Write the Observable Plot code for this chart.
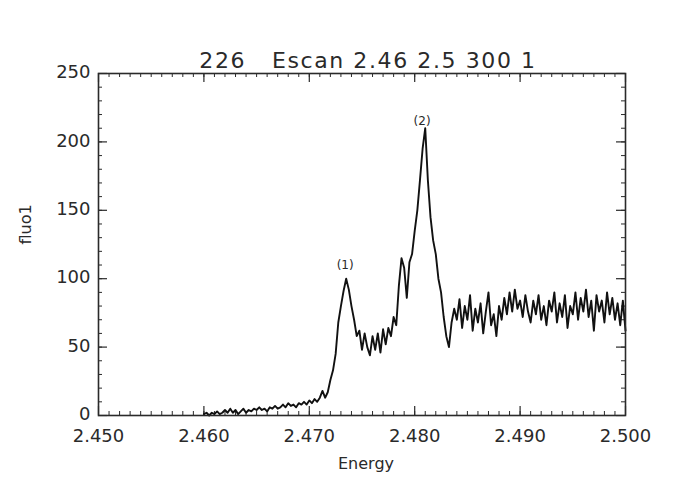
<!DOCTYPE html>
<html>
<head>
<meta charset="utf-8">
<script src="https://cdn.jsdelivr.net/npm/d3@7"></script>
<script src="https://cdn.jsdelivr.net/npm/@observablehq/plot@0.6"></script>
<style>
  html, body { margin: 0; padding: 0; background: #fff; }
  #chart { width: 682px; height: 497px; }
  svg text { white-space: pre; }
</style>
</head>
<body>
<div id="chart"></div>
<script>
// ---- data ----
const titleText = "226   Escan 2.46 2.5 300 1";
const xLabel = "Energy";
const yLabel = "fluo1";

const energy = [
  2.46000, 2.46025, 2.46050, 2.46075, 2.46100, 2.46125, 2.46150, 2.46175, 2.46200, 2.46225,
  2.46250, 2.46275, 2.46300, 2.46325, 2.46350, 2.46375, 2.46400, 2.46425, 2.46450, 2.46475,
  2.46500, 2.46525, 2.46550, 2.46575, 2.46600, 2.46625, 2.46650, 2.46675, 2.46700, 2.46725,
  2.46750, 2.46775, 2.46800, 2.46825, 2.46850, 2.46875, 2.46900, 2.46925, 2.46950, 2.46975,
  2.47000, 2.47025, 2.47050, 2.47075, 2.47100, 2.47125, 2.47150, 2.47175, 2.47200, 2.47225,
  2.47250, 2.47275, 2.47300, 2.47325, 2.47350, 2.47375, 2.47400, 2.47425, 2.47450, 2.47475,
  2.47500, 2.47525, 2.47550, 2.47575, 2.47600, 2.47625, 2.47650, 2.47675, 2.47700, 2.47725,
  2.47750, 2.47775, 2.47800, 2.47825, 2.47850, 2.47875, 2.47900, 2.47925, 2.47950, 2.47975,
  2.48000, 2.48025, 2.48050, 2.48075, 2.48100, 2.48125, 2.48150, 2.48175, 2.48200, 2.48225,
  2.48250, 2.48275, 2.48300, 2.48325, 2.48350, 2.48375, 2.48400, 2.48425, 2.48450, 2.48475,
  2.48500, 2.48525, 2.48550, 2.48575, 2.48600, 2.48625, 2.48650, 2.48675, 2.48700, 2.48725,
  2.48750, 2.48775, 2.48800, 2.48825, 2.48850, 2.48875, 2.48900, 2.48925, 2.48950, 2.48975,
  2.49000, 2.49025, 2.49050, 2.49075, 2.49100, 2.49125, 2.49150, 2.49175, 2.49200, 2.49225,
  2.49250, 2.49275, 2.49300, 2.49325, 2.49350, 2.49375, 2.49400, 2.49425, 2.49450, 2.49475,
  2.49500, 2.49525, 2.49550, 2.49575, 2.49600, 2.49625, 2.49650, 2.49675, 2.49700, 2.49725,
  2.49750, 2.49775, 2.49800, 2.49825, 2.49850, 2.49875, 2.49900, 2.49925, 2.49950, 2.49975,
  2.50000
];

const fluo1 = [
  1, 2, 0, 2, 1, 3, 1, 2, 4, 2,
  5, 2, 4, 1, 3, 5, 2, 4, 3, 5,
  4, 6, 4, 5, 3, 6, 5, 7, 5, 6,
  8, 6, 9, 7, 8, 6, 9, 8, 10, 8,
  11, 9, 12, 10, 13, 18, 13, 17, 26, 33,
  45, 68, 80, 91, 100, 92, 80, 70, 58, 62,
  48, 60, 50, 44, 58, 48, 60, 46, 63, 52,
  64, 58, 72, 66, 95, 115, 108, 86, 112, 118,
  135, 150, 172, 195, 210, 172, 145, 128, 118, 100,
  90, 72, 58, 50, 68, 78, 70, 85, 64, 80,
  70, 88, 62, 78, 68, 82, 60, 76, 90, 66,
  74, 58, 80, 70, 86, 74, 90, 76, 92, 78,
  84, 72, 88, 76, 68, 84, 74, 88, 70, 80,
  66, 84, 76, 90, 68, 82, 72, 88, 64, 80,
  74, 90, 70, 86, 76, 92, 72, 84, 62, 88,
  76, 84, 68, 90, 74, 86, 70, 82, 66, 84,
  62
];

const xTickValues = [2.45, 2.46, 2.47, 2.48, 2.49, 2.50];
const xTickLabels = ["2.450", "2.460", "2.470", "2.480", "2.490", "2.500"];
const yTickValues = [0, 50, 100, 150, 200, 250];
const yTickLabels = ["0", "50", "100", "150", "200", "250"];

const peakLabels = ["(1)", "(2)"];
const peakX = [2.4734, 2.4807];
const peakY = [110, 215];

// ---- build ----
const W = 682, H = 497;
const mL = 98, mR = 57, mT = 73, mB = 82;
const fw = W - mL - mR, fh = H - mT - mB;

const rows = energy.map((e, i) => ({e, v: fluo1[i]}));
const xMinor = d3.range(2.45, 2.50001, 0.001).map(d => +d.toFixed(3));
const yMinor = d3.range(0, 250.001, 10);
const xMajorRows = xTickValues.map((v, i) => ({v, t: xTickLabels[i]}));
const yMajorRows = yTickValues.map((v, i) => ({v, t: yTickLabels[i]}));
const peaks = peakLabels.map((t, i) => ({t, x: peakX[i], y: peakY[i]}));

const font = "DejaVu Sans, sans-serif";
const ink = "#2a2a2a";
const majorLen = 9, minorLen = 4;

const chart = Plot.plot({
  width: W, height: H,
  marginLeft: mL, marginRight: mR, marginTop: mT, marginBottom: mB,
  style: {fontFamily: font, background: "#fff"},
  x: {domain: [2.45, 2.50], axis: null},
  y: {domain: [0, 250], axis: null},
  marks: [
    // minor ticks (inward, all four sides)
    Plot.tickX(xMinor, {x: d => d, insetTop: fh - minorLen, stroke: ink, strokeWidth: 1}),
    Plot.tickX(xMinor, {x: d => d, insetBottom: fh - minorLen, stroke: ink, strokeWidth: 1}),
    Plot.tickY(yMinor, {y: d => d, insetRight: fw - minorLen, stroke: ink, strokeWidth: 1}),
    Plot.tickY(yMinor, {y: d => d, insetLeft: fw - minorLen, stroke: ink, strokeWidth: 1}),
    // major ticks
    Plot.tickX(xMajorRows, {x: "v", insetTop: fh - majorLen, stroke: ink, strokeWidth: 1.2}),
    Plot.tickX(xMajorRows, {x: "v", insetBottom: fh - majorLen, stroke: ink, strokeWidth: 1.2}),
    Plot.tickY(yMajorRows, {y: "v", insetRight: fw - majorLen, stroke: ink, strokeWidth: 1.2}),
    Plot.tickY(yMajorRows, {y: "v", insetLeft: fw - majorLen, stroke: ink, strokeWidth: 1.2}),
    // data
    Plot.line(rows, {x: "e", y: "v", stroke: "#111", strokeWidth: 1.9, strokeLinejoin: "round"}),
    Plot.frame({stroke: ink, strokeWidth: 1.6}),
    // tick labels
    Plot.text(xMajorRows, {x: "v", text: "t", frameAnchor: "bottom", dy: 26, fontSize: 18, fill: ink}),
    Plot.text(yMajorRows, {y: "v", text: "t", frameAnchor: "left", dx: -8, dy: -1, textAnchor: "end", fontSize: 18, fill: ink}),
    // axis labels
    Plot.text([xLabel], {text: d => d, frameAnchor: "bottom", dy: 53, dx: 4, fontSize: 16, fill: ink}),
    Plot.text([yLabel], {text: d => d, frameAnchor: "left", dx: -73, rotate: -90, fontSize: 16, fill: ink}),
    // title
    Plot.text([titleText], {text: d => d, frameAnchor: "top", dy: -21, dx: 6, fontSize: 22, fill: ink}),
    // peak annotations
    Plot.text(peaks, {x: "x", y: "y", text: "t", fontSize: 12, fill: ink})
  ]
});
// widen title spacing like the reference
d3.select(chart).selectAll("text").filter(function() { return this.textContent === titleText; })
  .style("letter-spacing", "1.6px");
document.getElementById("chart").appendChild(chart);
</script>
</body>
</html>
